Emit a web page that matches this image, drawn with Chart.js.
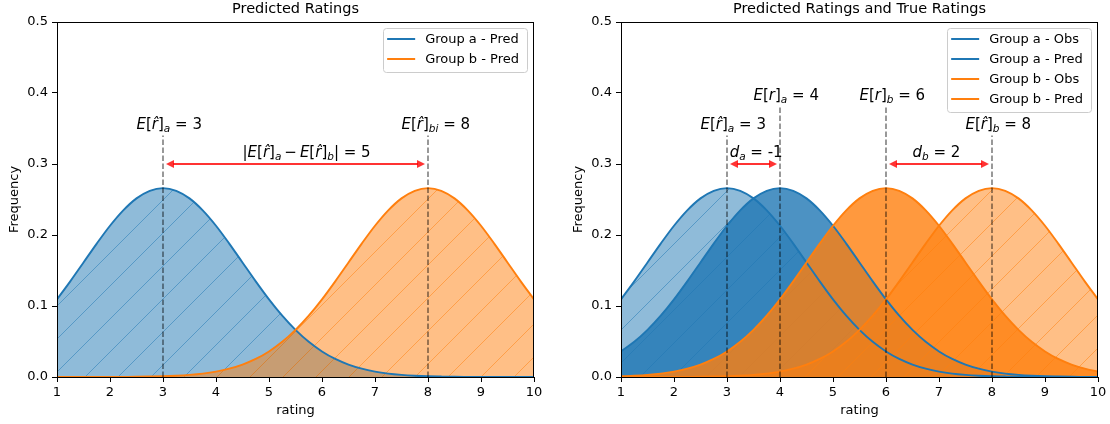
<!DOCTYPE html>
<html><head><meta charset="utf-8">
<script src="https://cdn.jsdelivr.net/npm/chart.js@4.4.0/dist/chart.umd.min.js"></script>
<style>
html,body{margin:0;padding:0;background:#fff;}
#wrap{position:relative;width:1110px;height:424px;overflow:hidden;}
.c{position:absolute;top:0;width:555px;height:424px;}
</style></head><body>
<div id="wrap">
<div class="c" style="left:0"><canvas id="left" width="555" height="424"></canvas></div>
<div class="c" style="left:555px"><canvas id="right" width="555" height="424"></canvas></div>
</div>
<script>
// ---- data ----
const ratings = [1,1.25,1.5,1.75,2,2.25,2.5,2.75,3,3.25,3.5,3.75,4,4.25,4.5,4.75,5,5.25,5.5,5.75,6,6.25,6.5,6.75,7,7.25,7.5,7.75,8,8.25,8.5,8.75,9,9.25,9.5,9.75,10];
const groupAPred = [0.1093,0.1347,0.1613,0.1879,0.2130,0.2347,0.2516,0.2623,0.2660,0.2623,0.2516,0.2347,0.2130,0.1879,0.1613,0.1347,0.1093,0.0863,0.0663,0.0495,0.0360,0.0254,0.0175,0.0117,0.0076,0.0048,0.0030,0.0018,0.0010,0.0006,0.0003,0.0002,0.0001,0,0,0,0];
const groupAObs = [0.0360,0.0495,0.0663,0.0863,0.1093,0.1347,0.1613,0.1879,0.2130,0.2347,0.2516,0.2623,0.2660,0.2623,0.2516,0.2347,0.2130,0.1879,0.1613,0.1347,0.1093,0.0863,0.0663,0.0495,0.0360,0.0254,0.0175,0.0117,0.0076,0.0048,0.0030,0.0018,0.0010,0.0006,0.0003,0.0002,0.0001];
const groupBObs = [0.0010,0.0018,0.0030,0.0048,0.0076,0.0117,0.0175,0.0254,0.0360,0.0495,0.0663,0.0863,0.1093,0.1347,0.1613,0.1879,0.2130,0.2347,0.2516,0.2623,0.2660,0.2623,0.2516,0.2347,0.2130,0.1879,0.1613,0.1347,0.1093,0.0863,0.0663,0.0495,0.0360,0.0254,0.0175,0.0117,0.0076];
const groupBPred = [0,0,0,0,0.0001,0.0002,0.0003,0.0006,0.0010,0.0018,0.0030,0.0048,0.0076,0.0117,0.0175,0.0254,0.0360,0.0495,0.0663,0.0863,0.1093,0.1347,0.1613,0.1879,0.2130,0.2347,0.2516,0.2623,0.2660,0.2623,0.2516,0.2347,0.2130,0.1879,0.1613,0.1347,0.1093];
const xTicks = [1,2,3,4,5,6,7,8,9,10];
const yTicks = [0,0.1,0.2,0.3,0.4,0.5];
const predMeans = [3, 8];      // E[r^]_a, E[r^]_b
const obsMeans = [4, 6];       // E[r]_a, E[r]_b
const legendLeft = ['Group a - Pred','Group b - Pred'];
const legendRight = ['Group a - Obs','Group a - Pred','Group b - Obs','Group b - Pred'];

// ---- styling ----
const BLUE = '#1f77b4', ORANGE = '#ff7f0e';
const FONT = 'DejaVu Sans';
function rgba(hex, a){const n=parseInt(hex.slice(1),16);return `rgba(${n>>16},${(n>>8)&255},${n&255},${a})`;}
function hatch(hex){
  const S=33, c=document.createElement('canvas'); c.width=S; c.height=S;
  const g=c.getContext('2d');
  g.fillStyle=rgba(hex,0.5); g.fillRect(0,0,S,S);
  g.strokeStyle=rgba(hex,0.5); g.lineWidth=1;
  g.beginPath();
  for(const k of [-S,0,S]){g.moveTo(k-1,S+1);g.lineTo(k+S+1,-1);}
  g.stroke();
  return g.createPattern(c,'repeat');
}
const pts = ys => ratings.map((x,i)=>({x, y: ys[i]}));
function curve(ys, color, bg){
  return {data:pts(ys), borderColor:color, borderWidth:1.9, backgroundColor:bg, fill:'origin',
    pointRadius:0, cubicInterpolationMode:'monotone'};
}
function vline(x, top){
  return {data:[{x,y:0},{x,y:top}], borderColor:'rgba(0,0,0,0.5)', borderWidth:1.6, borderDash:[5.5,2.5],
    pointRadius:0, fill:false, order:-10};
}
const M=t=>({t,it:true}), R=t=>({t}), S=t=>({t,it:true,sub:true});
const RHAT='r\u0302';
function drawRich(ctx, segs, x, y, size){
  ctx.textAlign='left'; ctx.textBaseline='alphabetic'; ctx.fillStyle='#000';
  let cx=x;
  for(const s of segs){
    const sz = s.sub ? size*0.7 : size;
    ctx.font = `${s.it?'italic ':''}${sz}px "${FONT}"`;
    ctx.fillText(s.t, cx, s.sub ? y+size*0.22 : y);
    cx += ctx.measureText(s.t).width;
  }
}
function arrow(ctx, x1, x2, y){
  const sh=3; x1+=sh; x2-=sh;
  ctx.save(); ctx.strokeStyle='rgba(255,0,0,0.8)'; ctx.fillStyle='rgba(255,0,0,0.8)'; ctx.lineWidth=2.2;
  const hl=8, hw=4;
  ctx.beginPath(); ctx.moveTo(x1+hl-1,y); ctx.lineTo(x2-hl+1,y); ctx.stroke();
  ctx.beginPath(); ctx.moveTo(x1,y); ctx.lineTo(x1+hl,y-hw); ctx.lineTo(x1+hl,y+hw); ctx.closePath(); ctx.fill();
  ctx.beginPath(); ctx.moveTo(x2,y); ctx.lineTo(x2-hl,y-hw); ctx.lineTo(x2-hl,y+hw); ctx.closePath(); ctx.fill();
  ctx.restore();
}
const decoPlugin = {
  id:'deco',
  afterDatasetsDraw(chart, args, opts){
    const ctx=chart.ctx, xs=chart.scales.x, ys=chart.scales.y;
    for(const a of opts.texts){ drawRich(ctx, a.segs, xs.getPixelForValue(a.x), ys.getPixelForValue(a.y), 15); }
    for(const ar of opts.arrows){ arrow(ctx, xs.getPixelForValue(ar[0]), xs.getPixelForValue(ar[1]), ys.getPixelForValue(ar[2])); }
  },
  afterDraw(chart, args, opts){
    const ctx=chart.ctx, ca=chart.chartArea;
    // spines
    ctx.save(); ctx.strokeStyle='#000'; ctx.lineWidth=1;
    ctx.strokeRect(Math.round(ca.left)+0.5, Math.round(ca.top)+0.5, Math.round(ca.right-ca.left)-1, Math.round(ca.bottom-ca.top));
    // title
    ctx.fillStyle='#000'; ctx.font=`14.5px "${FONT}"`; ctx.textAlign='center'; ctx.textBaseline='middle';
    ctx.fillText(opts.title, (ca.left+ca.right)/2, 9);
    // legend
    ctx.font=`13px "${FONT}"`;
    let tw=0; for(const l of opts.legend) tw=Math.max(tw, ctx.measureText(l.text).width);
    const w = 4+28+10+tw+8, h = 11+20*(opts.legend.length-1)+13;
    const bx = ca.right-7-w, by = ca.top+6;
    ctx.beginPath(); ctx.roundRect(Math.round(bx)+0.5, by+0.5, Math.round(w), h, 3);
    ctx.fillStyle='rgba(255,255,255,0.8)'; ctx.fill(); ctx.strokeStyle='#cccccc'; ctx.stroke();
    opts.legend.forEach((l,i)=>{
      const yy = by+11+20*i;
      ctx.strokeStyle=l.color; ctx.lineWidth=2;
      ctx.beginPath(); ctx.moveTo(bx+4,yy); ctx.lineTo(bx+32,yy); ctx.stroke();
      ctx.fillStyle='#000'; ctx.textAlign='left'; ctx.textBaseline='middle';
      ctx.fillText(l.text, bx+42, yy+0.5);
    });
    ctx.restore();
  }
};
function scales(){
  const font={family:FONT,size:13};
  const grid={drawOnChartArea:false, tickLength:5, tickColor:'#000', tickWidth:1};
  return {
    x:{type:'linear', min:1, max:10, afterFit(s){s.height=47;},
       afterBuildTicks(s){s.ticks=xTicks.map(v=>({value:v}));},
       ticks:{font, color:'#000', padding:3, maxRotation:0, autoSkip:false, callback:v=>String(v)},
       grid, border:{color:'#000', width:1},
       title:{display:true, text:'rating', font, color:'#000', padding:{top:0,bottom:6}}},
    y:{type:'linear', min:0, max:0.5, afterFit(s){s.width=57;},
       afterBuildTicks(s){s.ticks=yTicks.map(v=>({value:v}));},
       ticks:{font, color:'#000', padding:4, callback:v=>v.toFixed(1)},
       grid, border:{color:'#000', width:1},
       title:{display:true, text:'Frequency', font, color:'#000', padding:{top:7,bottom:0}}}
  };
}
const common = {responsive:false, animation:false, events:[]};

// ---- left chart ----
new Chart(document.getElementById('left'), {
  type:'line',
  data:{datasets:[
    vline(predMeans[0],0.34), vline(predMeans[1],0.34),
    Object.assign(curve(groupBPred, ORANGE, hatch(ORANGE)),{order:1}),
    Object.assign(curve(groupAPred, BLUE, hatch(BLUE)),{order:2})
  ]},
  options:Object.assign({}, common, {
    layout:{padding:{left:0,right:21,top:22,bottom:0}},
    plugins:{legend:{display:false}, tooltip:{enabled:false}, filler:{drawTime:'beforeDatasetsDraw'},
      deco:{title:'Predicted Ratings',
        legend:[{text:legendLeft[0],color:BLUE},{text:legendLeft[1],color:ORANGE}],
        texts:[
          {x:predMeans[0]-0.5, y:0.35, segs:[M('E'),R('['),M(RHAT),R(']'),S('a'),R(' = '+predMeans[0])]},
          {x:predMeans[1]-0.5, y:0.35, segs:[M('E'),R('['),M(RHAT),R(']'),S('bi'),R(' = '+predMeans[1])]},
          {x:4.5, y:0.31, segs:[R('|'),M('E'),R('['),M(RHAT),R(']'),S('a'),R('\u2009\u2212\u2009'),M('E'),R('['),M(RHAT),R(']'),S('b'),R('|'),R(' = '+(predMeans[1]-predMeans[0]))]}
        ],
        arrows:[[predMeans[0],predMeans[1],0.3]]}},
    scales:scales()
  }),
  plugins:[decoPlugin]
});

// ---- right chart ----
new Chart(document.getElementById('right'), {
  type:'line',
  data:{datasets:[
    vline(predMeans[0],0.34), vline(obsMeans[0],0.38), vline(obsMeans[1],0.38), vline(predMeans[1],0.34),
    Object.assign(curve(groupBPred, ORANGE, hatch(ORANGE)),{order:1}),
    Object.assign(curve(groupBObs, ORANGE, rgba(ORANGE,0.8)),{order:2}),
    Object.assign(curve(groupAPred, BLUE, hatch(BLUE)),{order:3}),
    Object.assign(curve(groupAObs, BLUE, rgba(BLUE,0.8)),{order:4})
  ]},
  options:Object.assign({}, common, {
    layout:{padding:{left:9,right:12,top:22,bottom:0}},
    plugins:{legend:{display:false}, tooltip:{enabled:false}, filler:{drawTime:'beforeDatasetsDraw'},
      deco:{title:'Predicted Ratings and True Ratings',
        legend:[{text:legendRight[0],color:BLUE},{text:legendRight[1],color:BLUE},{text:legendRight[2],color:ORANGE},{text:legendRight[3],color:ORANGE}],
        texts:[
          {x:predMeans[0]-0.5, y:0.35, segs:[M('E'),R('['),M(RHAT),R(']'),S('a'),R(' = '+predMeans[0])]},
          {x:obsMeans[0]-0.5, y:0.39, segs:[M('E'),R('['),M('r'),R(']'),S('a'),R(' = '+obsMeans[0])]},
          {x:obsMeans[1]-0.5, y:0.39, segs:[M('E'),R('['),M('r'),R(']'),S('b'),R(' = '+obsMeans[1])]},
          {x:predMeans[1]-0.5, y:0.35, segs:[M('E'),R('['),M(RHAT),R(']'),S('b'),R(' = '+predMeans[1])]},
          {x:3.05, y:0.31, segs:[M('d'),S('a'),R(' = '+(predMeans[0]-obsMeans[0]))]},
          {x:6.5, y:0.31, segs:[M('d'),S('b'),R(' = '+(predMeans[1]-obsMeans[1]))]}
        ],
        arrows:[[predMeans[0],obsMeans[0],0.3],[obsMeans[1],predMeans[1],0.3]]}},
    scales:scales()
  }),
  plugins:[decoPlugin]
});
</script>
</body></html>
